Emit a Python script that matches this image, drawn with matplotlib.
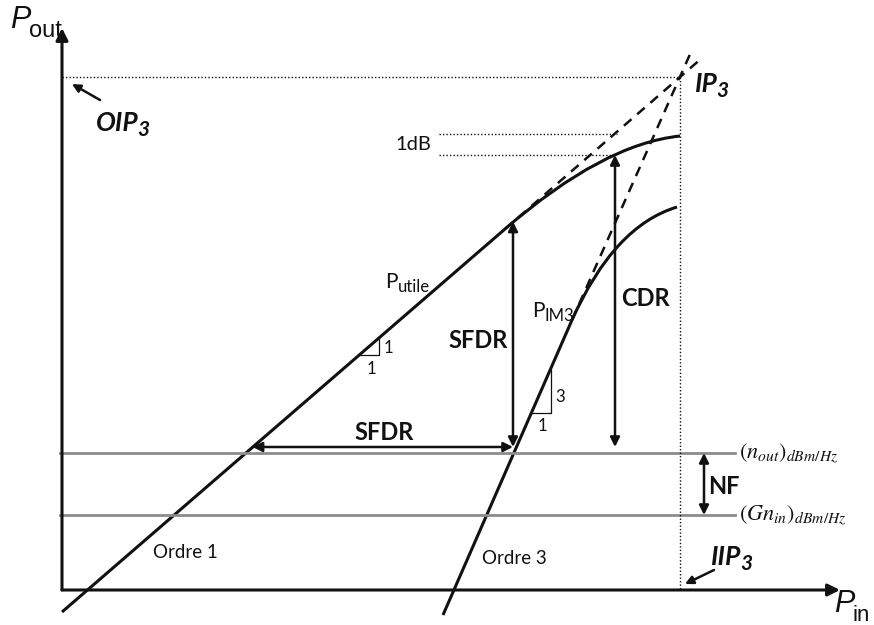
import numpy as np
import matplotlib
matplotlib.use("Agg")
import matplotlib.pyplot as plt
from matplotlib.path import Path
from matplotlib.patches import PathPatch

plt.rcParams['font.family'] = ['Lato', 'DejaVu Sans']
plt.rcParams['mathtext.fontset'] = 'stix'

# diagram points (diagram units, y grows downward)
ip3 = (680, 77)
axis_origin = (62, 590)
axis_top = 28
axis_right = 840
noise_levels = [453, 515]              # (n_out), (G n_in)
noise_labels = [r"$(n_{out})_{dBm/Hz}$", r"$(Gn_{in})_{dBm/Hz}$"]
order1_start = (62, 612)
order3_start = (443, 615)
order1_knee = [(505, 229), (603, 144), (680, 136)]   # compression, bezier pts
order3_knee = [(572, 320), (614, 226), (677, 207)]
order1_dash_end = 703
order3_dash_end = 691
p1db = (613, 155)
db1_levels = [134, 155]
sfdr_x = 513
sfdr_y = 447
cdr_x = 615
nf_x = 704

BLACK = "#111111"
GRAY = "#8c8c8c"

fig = plt.figure(figsize=(8.74, 6.25), dpi=100)
ax = fig.add_axes([0, 0, 1, 1])
ax.set_xlim(0, 874)
ax.set_ylim(625, 0)
ax.axis('off')


def line_y(p0, p1, x):
    s = (p1[1] - p0[1]) / (p1[0] - p0[0])
    return p0[1] + s * (x - p0[0])


def line_x(p0, p1, y):
    s = (p1[1] - p0[1]) / (p1[0] - p0[0])
    return p0[0] + (y - p0[1]) / s


def arrow(a, b, style='<|-|>', lw=1.8, ms=14):
    ax.annotate('', xy=b, xytext=a,
                arrowprops=dict(arrowstyle=style, lw=lw, color=BLACK,
                                mutation_scale=ms, shrinkA=0, shrinkB=0))


def label_sub(x, y, main, sub, size, subsize, dx=0.5, dy=0, **kw):
    t = ax.text(x, y, main, fontsize=size, va='baseline', ha='left', color=BLACK, **kw)
    ax.annotate(sub, xy=(1, 0), xycoords=t, xytext=(dx, dy), textcoords='offset points',
                fontsize=subsize, va='baseline', ha='left', color=BLACK, **kw)
    return t


# axes
arrow(axis_origin, (axis_origin[0], axis_top), style='-|>', lw=2.2, ms=18)
arrow(axis_origin, (axis_right, axis_origin[1]), style='-|>', lw=2.2, ms=18)

# noise floors
for lv, lab in zip(noise_levels, noise_labels):
    ax.plot([60, 735], [lv, lv], color=GRAY, lw=2)
    ax.text(739, lv, lab, fontsize=16, va='center', ha='left', color=BLACK)

# IP3 dotted guides
ax.plot([axis_origin[0], ip3[0]], [ip3[1], ip3[1]], ls=(0, (1, 1.5)), color=BLACK, lw=1)
ax.plot([ip3[0], ip3[0]], [ip3[1], axis_origin[1]], ls=(0, (1, 1.5)), color=BLACK, lw=1)

# 1 dB guides
for lv, xe in zip(db1_levels, [617, p1db[0]]):
    ax.plot([439, xe], [lv, lv], ls=(0, (1, 1.5)), color=BLACK, lw=1)
ax.text(395, 144, "1dB", fontsize=14.5, va='center', ha='left', color=BLACK)

# order 1 (fundamental) and order 3 (IM3) curves
for start, knee, dash_end in [(order1_start, order1_knee, order1_dash_end),
                              (order3_start, order3_knee, order3_dash_end)]:
    verts = [start, knee[0], knee[1], knee[2]]
    codes = [Path.MOVETO, Path.LINETO, Path.CURVE3, Path.CURVE3]
    ax.add_patch(PathPatch(Path(verts, codes), fill=False, lw=2.2, color=BLACK,
                           capstyle='butt'))
    ax.plot([knee[0][0], dash_end], [knee[0][1], line_y(start, ip3, dash_end)],
            ls=(0, (4, 3)), lw=1.8, color=BLACK)

# slope triangles
for x2, w, pt_hi, pt_lo in [(379, 20, (388, 348), (371, 369)),
                            (551, 19, (560, 397), (542, 426))]:
    start = order1_start if x2 < 400 else order3_start
    yl = line_y(start, ip3, x2 - w)
    yh = line_y(start, ip3, x2)
    ax.plot([x2 - w, x2, x2], [yl, yl, yh], color=BLACK, lw=0.9)
    ax.text(*pt_hi, "1" if x2 < 400 else "3", fontsize=12, va='center', ha='center', color=BLACK)
    ax.text(*pt_lo, "1", fontsize=12, va='center', ha='center', color=BLACK)

# SFDR / CDR / NF arrows
top_sfdr = line_y(order1_start, ip3, sfdr_x)
arrow((sfdr_x, noise_levels[0] - 6), (sfdr_x, top_sfdr))
arrow((line_x(order1_start, ip3, sfdr_y), sfdr_y), (sfdr_x, sfdr_y))
arrow((cdr_x, sfdr_y), (cdr_x, p1db[1]))
arrow((nf_x, noise_levels[0]), (nf_x, noise_levels[1]))

ax.text(478, 341, "SFDR", fontsize=17, fontweight='bold', va='center', ha='center', color=BLACK)
ax.text(384, 432, "SFDR", fontsize=17, fontweight='bold', va='center', ha='center', color=BLACK)
ax.text(645, 298, "CDR", fontsize=17, fontweight='bold', va='center', ha='center', color=BLACK)
ax.text(724, 486, "NF", fontsize=17, fontweight='bold', va='center', ha='center', color=BLACK)

# curve labels
label_sub(385, 288, "P", "utile", 15, 12, dx=0)
label_sub(532, 317, "P", "IM3", 15, 12, dx=0)
ax.text(185, 553, "Ordre 1", fontsize=13.5, va='center', ha='center', color=BLACK)
ax.text(514, 559, "Ordre 3", fontsize=13.5, va='center', ha='center', color=BLACK)

# IP3 labels
bi = dict(fontweight='bold', style='italic')
label_sub(695, 92, "IP", "3", 19, 15, dx=-1, dy=-1, **bi)
label_sub(96, 131, "OIP", "3", 19, 15, dx=-1, dy=-1, **bi)
label_sub(711, 565, "IIP", "3", 19, 15, dx=-1, dy=-1, **bi)
arrow((100, 100), (72, 84), style='-|>', lw=1.8, ms=12)
arrow((714, 570), (685, 584), style='-|>', lw=1.8, ms=12)

# axis titles
sans = ['Liberation Sans', 'DejaVu Sans']
ax.text(10, 28, "P", fontsize=22, style='italic', family=sans, va='baseline', color=BLACK)
ax.text(29, 37, "out", fontsize=17, family=sans, va='baseline', color=BLACK)
ax.text(834, 612, "P", fontsize=22, style='italic', family=sans, va='baseline', color=BLACK)
ax.text(853, 621, "in", fontsize=16, family=sans, va='baseline', color=BLACK)

fig.savefig("out.png", dpi=100, facecolor='white')
